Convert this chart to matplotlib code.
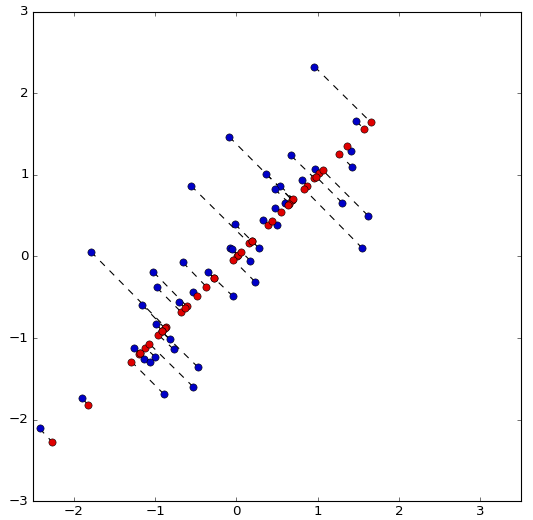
import matplotlib
matplotlib.use("Agg")
import matplotlib.pyplot as plt

# original points (blue)
xs = [0.96, 1.47, 1.41, 1.42, 0.67, 0.97, 0.81, 1.30, 1.62, 1.55,
      -0.09, -0.56, 0.37, 0.54, 0.47, 0.60, 0.48, 0.33, 0.50, -0.02,
      -0.08, -0.05, 0.28, 0.17, 0.23, -0.04, -1.79, -0.66, -0.35, -0.53,
      -1.02, -0.98, -0.70, -1.16, -0.99, -0.82, -0.77, -0.47, -1.26, -1.00,
      -1.14, -1.06, -0.53, -0.89, -1.90, -2.42]
ys = [2.33, 1.66, 1.29, 1.10, 1.24, 1.07, 0.94, 0.66, 0.50, 0.10,
      1.47, 0.87, 1.01, 0.87, 0.83, 0.66, 0.60, 0.45, 0.39, 0.40,
      0.10, 0.09, 0.10, -0.05, -0.31, -0.49, 0.06, -0.07, -0.19, -0.44,
      -0.19, -0.38, -0.56, -0.59, -0.83, -1.01, -1.14, -1.36, -1.12, -1.23,
      -1.26, -1.29, -1.60, -1.69, -1.74, -2.11]

# projected points on the first component (red), position along y = x
proj = [1.65, 1.57, 1.36, 1.26, 0.96, 1.02, 0.87, 0.98, 1.06, 0.83,
        0.69, 0.16, 0.69, 0.70, 0.65, 0.63, 0.55, 0.39, 0.44, 0.19,
        0.01, 0.02, 0.19, 0.06, -0.04, -0.27, -0.87, -0.37, -0.27, -0.49,
        -0.61, -0.68, -0.63, -0.88, -0.91, -0.92, -0.96, -0.92, -1.19, -1.12,
        -1.20, -1.18, -1.07, -1.29, -1.82, -2.27]

plt.style.use('classic')
fig = plt.figure(figsize=(533 / 80, 520 / 80), dpi=80)
ax = fig.add_axes([0.062, 0.0365, 0.9155, 0.9405])

for x, y, p in zip(xs, ys, proj):
    ax.plot([x, p], [y, p], 'k--')
ax.plot(xs, ys, 'o', color='#0000c8', markersize=6.5)
ax.plot(proj, proj, 'o', color='#e00000', markersize=6.5)

ax.set_xlim(-2.5, 3.5)
ax.set_ylim(-3, 3)

fig.savefig("out.png", dpi=80)
